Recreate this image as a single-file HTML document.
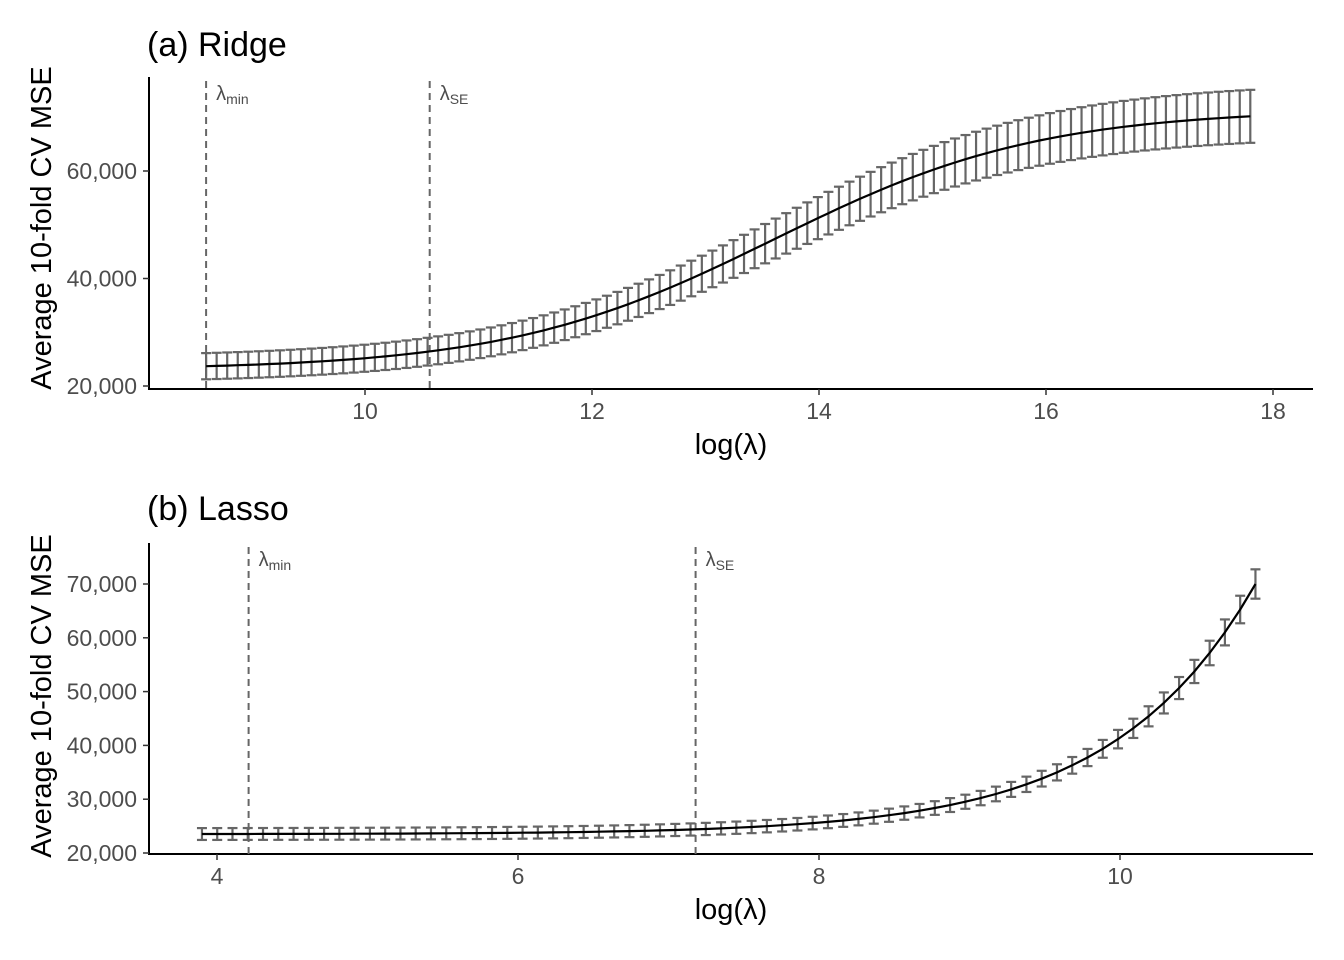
<!DOCTYPE html>
<html><head><meta charset="utf-8"><style>
html,body{margin:0;padding:0;background:#fff;width:1344px;height:960px;overflow:hidden}
svg text{font-family:"Liberation Sans",sans-serif}
</style></head><body>
<svg id="s" width="1344" height="960" xmlns="http://www.w3.org/2000/svg">
<text x="147" y="56" font-size="34" fill="#000">(a) Ridge</text>
<text x="147" y="520" font-size="34" fill="#000">(b) Lasso</text>
<text transform="translate(51,228) rotate(-90)" font-size="29" text-anchor="middle">Average 10-fold CV MSE</text>
<text transform="translate(51,696) rotate(-90)" font-size="29" text-anchor="middle">Average 10-fold CV MSE</text>
<text x="731" y="454" font-size="29" text-anchor="middle">log(λ)</text>
<text x="731" y="919" font-size="29" text-anchor="middle">log(λ)</text>
<g id="g"></g>
</svg>
<script>
var g=document.getElementById('g'),h='';
function L(x1,y1,x2,y2,c,w,d){h+='<line x1="'+x1+'" y1="'+y1+'" x2="'+x2+'" y2="'+y2+'" stroke="'+c+'" stroke-width="'+w+'"'+(d?' stroke-dasharray="'+d+'"':'')+'/>';}
function T(x,y,t,s,a,c){h+='<text x="'+x+'" y="'+y+'" font-size="'+s+'" text-anchor="'+(a||'middle')+'" fill="'+(c||'#4d4d4d')+'">'+t+'</text>';}
function panel(o){
 var X=function(v){return o.x0+(v-o.xv0)*o.xs},Y=function(v){return o.y0-(v-20000)*o.ys};
 L(149,o.top,149,o.axY+1,'#000',2);L(148,o.axY,1313,o.axY,'#000',2);
 o.yt.forEach(function(v){var y=Y(v);L(143,y,149,y,'#333',1.5);T(137,y+8,v.toLocaleString('en-US'),23,'end');});
 o.xt.forEach(function(v){var x=X(v);L(x,o.axY,x,o.axY+6,'#333',1.5);T(x,o.axY+30,v,23);});
 o.vl.forEach(function(v,i){var x=X(v);L(x,o.top+4,x,o.axY,'#666',2,'7,5');
  T(x+10,o.top+23,'λ<tspan font-size="14" dy="4">'+(i?'SE':'min')+'</tspan>',20,'start','#4d4d4d');});
 var pts=[];
 for(var i=0;i<o.n;i++){var v=o.a+(o.b-o.a)*i/(o.n-1),m=o.f(v),hw=o.hw(m),x=X(v);
  L(x,Y(m+hw),x,Y(m-hw),'#666',2.2);L(x-5,Y(m+hw),x+5,Y(m+hw),'#666',2.2);L(x-5,Y(m-hw),x+5,Y(m-hw),'#666',2.2);
  pts.push(x.toFixed(1)+','+Y(m).toFixed(1));}
 h+='<polyline points="'+pts.join(' ')+'" fill="none" stroke="#000" stroke-width="2.2"/>';
}
panel({x0:365,xv0:10,xs:113.5,y0:386,ys:107.5/20000,top:77,axY:389,yt:[20000,40000,60000],xt:[10,12,14,16,18],vl:[8.6,10.57],
 n:100,a:8.6,b:17.8,f:function(x){return 23000+48500/(1+Math.exp(-(x-13.6)*0.85));},hw:function(m){return 2400+2600*(m-23000)/48500;}});
panel({x0:217,xv0:4,xs:150.5,y0:853,ys:53.8/10000,top:543,axY:854,yt:[20000,30000,40000,50000,60000,70000],xt:[4,6,8,10],vl:[4.21,7.18],
 n:70,a:3.9,b:10.9,f:function(x){return 23500+46500*Math.exp(1.06*(x-10.9));},hw:function(m){return 1100+0.035*(m-23500);}});
g.innerHTML=h;
</script>
</body></html>
